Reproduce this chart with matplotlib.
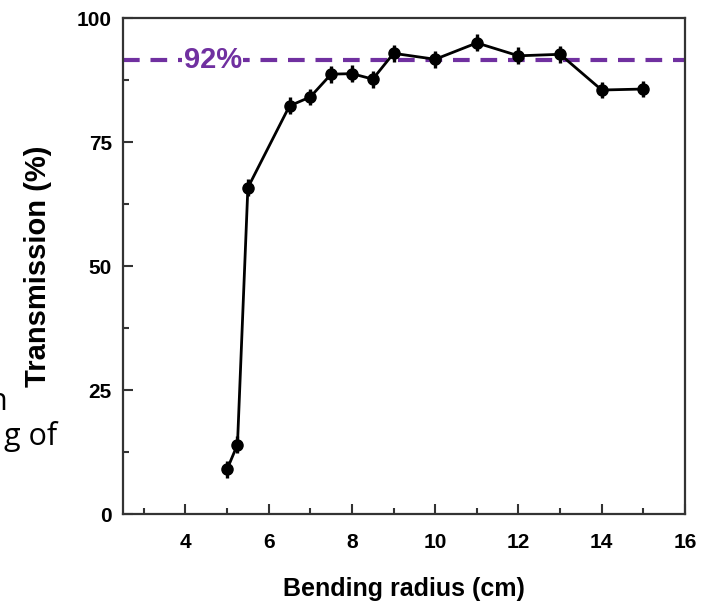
import matplotlib
matplotlib.use("Agg")
import matplotlib.pyplot as plt
from matplotlib.ticker import MultipleLocator

# data
radius = [5.0, 5.25, 5.5, 6.5, 7.0, 7.5, 8.0, 8.5, 9.0, 10.0, 11.0, 12.0, 13.0, 14.0, 15.0]
transmission = [9.0, 14.0, 65.8, 82.3, 84.1, 88.7, 88.8, 87.7, 92.9, 91.7, 95.0, 92.4, 92.7, 85.5, 85.7]
err = [1.7] * len(radius)
ref_level = 91.5
ref_label = "92%"
x_ticks = [4, 6, 8, 10, 12, 14, 16]
y_ticks = [0, 25, 50, 75, 100]

plt.rcParams["font.family"] = ["Liberation Sans", "DejaVu Sans"]
plt.rcParams["font.weight"] = "bold"

fig = plt.figure(figsize=(7.26, 6.04), dpi=100)
ax = fig.add_axes([0.1694, 0.149, 0.7741, 0.821])

purple = "#7030A0"
ax.axhline(ref_level, color=purple, lw=3, ls=(0, (4, 2.6)), zorder=1)
ax.text(4.66, ref_level, ref_label, color=purple, fontsize=21, fontweight="bold",
        ha="center", va="center", zorder=2,
        bbox=dict(facecolor="white", edgecolor="none", pad=1))

ax.errorbar(radius, transmission, yerr=err, xerr=0.12, color="black", lw=2,
            elinewidth=2.4, capsize=0, marker="o", ms=8, zorder=3)

ax.set_xlim(2.5, 16)
ax.set_ylim(0, 100)
ax.set_xticks(x_ticks)
ax.set_yticks(y_ticks)
ax.xaxis.set_minor_locator(MultipleLocator(1))
ax.yaxis.set_minor_locator(MultipleLocator(12.5))
ax.tick_params(which="both", direction="in", width=1.5, color="#333333",
               top=False, right=False, labelsize=15)
ax.tick_params(which="major", length=7)
ax.tick_params(which="minor", length=4)
ax.tick_params(axis="x", pad=14)
ax.tick_params(axis="y", pad=8)
for s in ax.spines.values():
    s.set_linewidth(1.6)
    s.set_color("#333333")

ax.set_xlabel("Bending radius (cm)", fontsize=18, fontweight="bold", labelpad=18)
ax.set_ylabel("Transmission (%)", fontsize=21, fontweight="bold", labelpad=18)

# fragments of slide text cut off at the left edge
fig.text(7 / 726, 1 - 402 / 604, "n", ha="right", va="center", fontsize=22,
         fontweight="normal", family=["Open Sans", "DejaVu Sans"])
fig.text(57 / 726, 1 - 436 / 604, "g of", ha="right", va="center", fontsize=22,
         fontweight="normal", family=["Open Sans", "DejaVu Sans"])

fig.savefig("out.png", dpi=100)
